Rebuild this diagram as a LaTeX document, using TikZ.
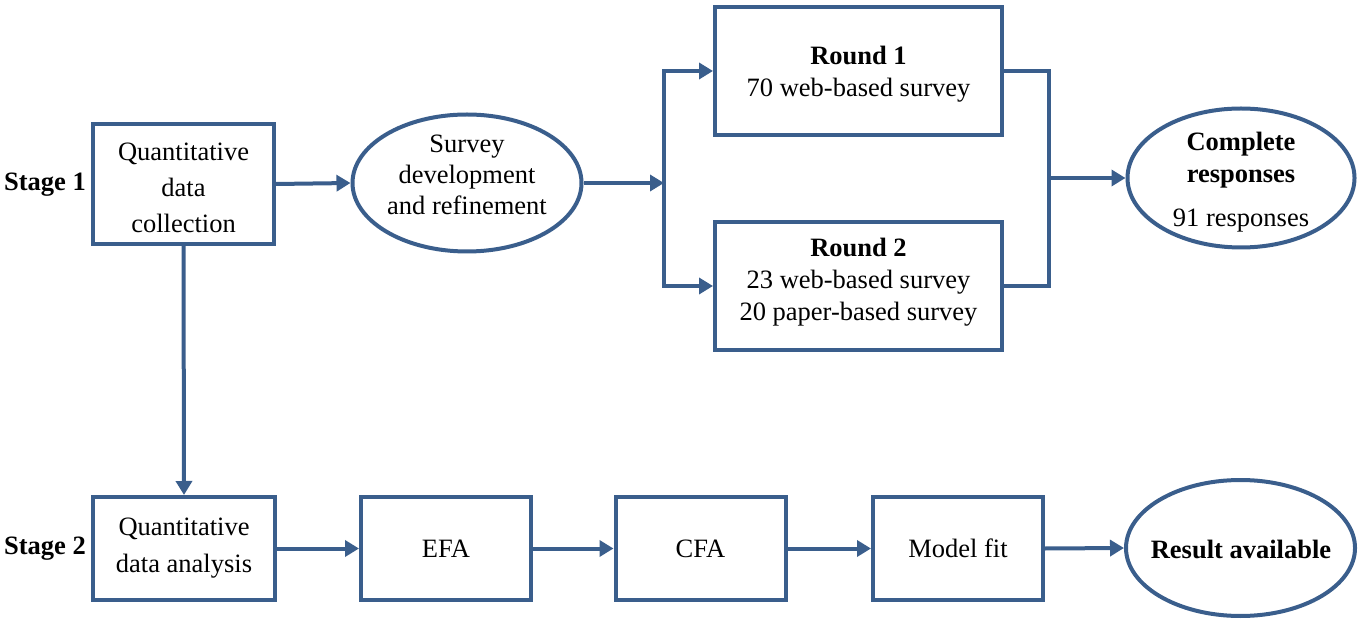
\documentclass[tikz,border=0pt]{standalone}
\usepackage{fontspec}
\setmainfont{Liberation Serif}
\usetikzlibrary{shapes.geometric,arrows.meta}
\definecolor{flowblue}{RGB}{58,94,140}
\begin{document}
\begin{tikzpicture}[x=0.5pt,y=-0.5pt,
  every node/.style={font=\fontsize{13.25pt}{16pt}\selectfont, text=black},
  box/.style={draw=flowblue, line width=2pt, rectangle, inner sep=0pt, align=center},
  oval/.style={draw=flowblue, line width=2pt, ellipse, inner sep=0pt},
  txt/.style={align=center, inner sep=0pt},
  link/.style={draw=flowblue, line width=2pt},
  arr/.style={link, -{Triangle[length=7pt,width=8pt]}},
]
\useasboundingbox (0,0) rectangle (1358,619);

% stage labels
\node[txt, font=\fontsize{13.25pt}{16pt}\selectfont\bfseries] (s1) at (45,185) {Stage 1};
\node[txt, font=\fontsize{13.25pt}{16pt}\selectfont\bfseries] (s2) at (45,549) {Stage 2};

% stage 1
\node[box, minimum width=90.5pt, minimum height=60pt] (qdc) at (183.5,184) {};
\node[txt, font=\fontsize{13.25pt}{18pt}\selectfont] (qdc-t) at (183.5,188)
  {Quantitative\\data\\collection};
\node[oval, minimum width=114.5pt, minimum height=68.5pt] (survey) at (467,183) {};
\node[txt, font=\fontsize{13.25pt}{15.5pt}\selectfont] (survey-t) at (467,175)
  {Survey\\development\\and refinement};

\node[box, minimum width=143.5pt, minimum height=64pt] (r1) at (858.5,71) {};
\node[txt] (r1-t) at (858.5,74) {\textbf{Round 1}\\70 web-based survey};
\node[box, minimum width=143.5pt, minimum height=64pt] (r2) at (858.5,286) {};
\node[txt] (r2-t) at (858.5,282) {\textbf{Round 2}\\23 web-based survey\\20 paper-based survey};

\node[oval, minimum width=113.5pt, minimum height=69.5pt] (done) at (1241,178) {};
\node[txt] (done-t) at (1241,182)
  {\textbf{Complete}\\\textbf{responses}\\[6pt]91 responses};

\coordinate (split) at (664,183);
\coordinate (merge) at (1049,178);

% stage 2
\node[box, minimum width=91pt, minimum height=51.5pt,
      font=\fontsize{13.25pt}{18.5pt}\selectfont] (qda) at (184,548.5)
  {Quantitative\\data analysis};
\node[box, minimum width=85pt, minimum height=51.5pt] (efa) at (446,548.5) {EFA};
\node[box, minimum width=85pt, minimum height=51.5pt] (cfa) at (700.5,548.5) {CFA};
\node[box, minimum width=85pt, minimum height=51.5pt] (fit) at (958,548.5) {Model fit};
\node[oval, minimum width=114.5pt, minimum height=68pt] (result) at (1240.5,548) {};
\node[txt, font=\fontsize{13.25pt}{16pt}\selectfont\bfseries] (result-t) at (1241,549) {Result available};

% connectors
\draw[arr] (qdc.east) -- (survey.west);
\draw[arr] (survey.east) -- (split);
\draw[arr] (split) |- (r1.west);
\draw[arr] (split) |- (r2.west);
\draw[link] (r1.east) -| (merge);
\draw[link] (r2.east) -| (merge);
\draw[arr] (merge) -- (done.west);
\draw[arr] (qdc.south) -- (qda.north);
\draw[arr] (qda.east) -- (efa.west);
\draw[arr] (efa.east) -- (cfa.west);
\draw[arr] (cfa.east) -- (fit.west);
\draw[arr] (fit.east) -- (result.west);
\end{tikzpicture}
\end{document}
